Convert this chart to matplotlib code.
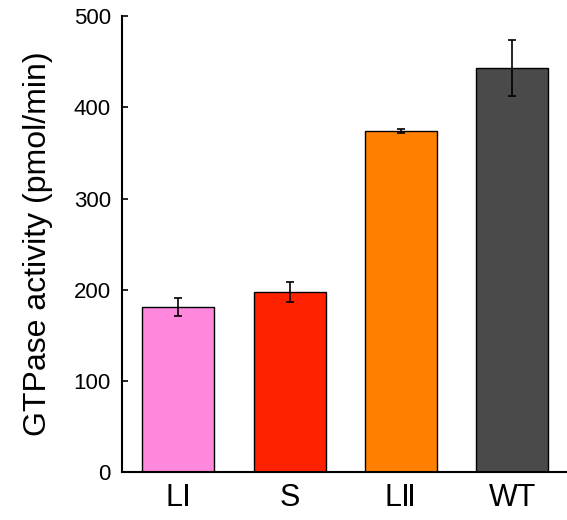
import matplotlib
matplotlib.use("Agg")
import matplotlib.pyplot as plt

plt.rcParams['font.family'] = ['Liberation Sans', 'DejaVu Sans']

# data
labels = ["L\u2160", "S", "L\u2161", "WT"]
activity = [181, 198, 374, 443]
errors = [10, 11, 2, 31]
colors = ["#FF88DD", "#FF2200", "#FF7F00", "#4A4A4A"]

fig = plt.figure(figsize=(5.67, 5.2), dpi=100)
ax = fig.add_axes([0.215, 0.092, 0.785, 0.877])

x = range(len(labels))
ax.bar(x, activity, width=0.646, color=colors, edgecolor="black", linewidth=1.0,
       yerr=errors, capsize=3, error_kw=dict(elinewidth=1.2, capthick=1.2, ecolor="black"))

ax.set_xlim(-0.505, 3.49)
ax.set_ylim(0, 500)
ax.set_yticks([0, 100, 200, 300, 400, 500])
ax.set_xticks(list(x))
ax.set_xticklabels(labels, fontsize=22)
ax.tick_params(axis='x', length=0, pad=8)
ax.tick_params(axis='y', direction='in', length=4, width=1.2, labelsize=16, pad=8)
ax.set_ylabel("GTPase activity (pmol/min)", fontsize=23, labelpad=15)

for s in ["top", "right"]:
    ax.spines[s].set_visible(False)
for s in ["left", "bottom"]:
    ax.spines[s].set_linewidth(1.5)

fig.savefig("out.png", dpi=100)
